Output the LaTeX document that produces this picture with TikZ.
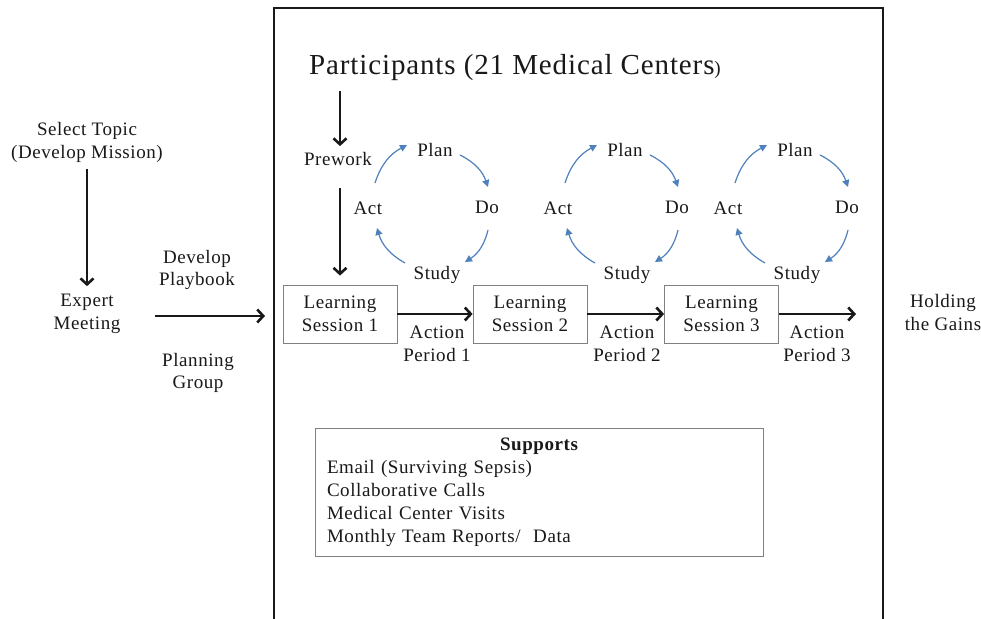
\documentclass[tikz,border=0pt]{standalone}
\usepackage{fontspec}
\setmainfont[LetterSpace=3]{Liberation Serif}
\usetikzlibrary{arrows.meta}
\definecolor{pdsablue}{RGB}{79,129,189}
\definecolor{ink}{RGB}{25,25,25}
\begin{document}
\begin{tikzpicture}[x=1pt,y=1pt,
  txt/.style={font=\fontsize{19}{22.7}\selectfont, text=ink, align=center, inner sep=2pt},
  flow/.style={draw=ink, line width=2.6pt, -{Straight Barb[length=6pt,width=13pt]}},
  sessbox/.style={txt, draw=gray, line width=0.8pt, minimum width=114pt, minimum height=58pt},
  cyc/.style={draw=pdsablue, line width=1.2pt, -{Triangle[length=7pt,width=7pt]}},
  pdsa/.pic={
    \node[txt] (-plan) at (5,58) {Plan};
    \node[txt] (-do) at (57,1) {Do};
    \node[txt] (-study) at (7,-67) {Study};
    \node[txt] (-act) at (-62,0) {Act};
    \draw[cyc] (-55,25) to[bend left=22] (-23,63);
    \draw[cyc] (30,53) to[bend left=22] (58,21);
    \draw[cyc] (58,-22) to[bend left=22] (35,-54);
    \draw[cyc] (-25,-55) to[bend left=22] (-53,-20);
  }]
\fill[white] (0,0) rectangle (981,618);
\useasboundingbox (0,0) rectangle (981,618);

% frame
\draw[line width=2.6pt, draw=ink] (274,-2) -- (274,610) -- (883,610) -- (883,-2);

% left part
\node[txt] (select) at (87,475.5) {Select Topic\\(Develop Mission)};
\node[txt] (expert) at (87,304) {Expert\\Meeting};
\draw[flow, shorten <=4pt, shorten >=6pt] (select) -- (expert);
\node[txt] (playbook) at (197,348) {Develop\\Playbook};
\node[txt] (planning) at (198,245) {Planning\\Group};
\coordinate (entry) at (265,302);
\draw[flow, shorten <=32pt] (expert.east |- entry) -- (entry);

% title
\node[txt, font=\fontsize{29}{34}\selectfont] (title) at (515,550)
  {Participants (21 Medical Centers{\fontsize{19}{19}\selectfont)}};

% prework
\node[txt] (prework) at (338,459) {Prework};
\draw[flow, shorten <=8pt, shorten >=4pt] (title.south -| 340,0) -- (prework.north -| 340,0);

% sessions
\node[sessbox] (ls1) at (340,304) {Learning\\Session 1};
\node[sessbox] (ls2) at (530,304) {Learning\\Session 2};
\node[sessbox] (ls3) at (721.5,304) {Learning\\Session 3};
\draw[flow, shorten <=20pt, shorten >=9pt] (prework.south -| 340,0) -- (ls1.north -| 340,0);
\draw[flow] (ls1) -- (ls2);
\draw[flow] (ls2) -- (ls3);
\coordinate (hold) at (856,304);
\draw[flow] (ls3) -- (hold);

\node[txt] (ap1) at (437,274) {Action\\Period 1};
\node[txt] (ap2) at (627,274) {Action\\Period 2};
\node[txt] (ap3) at (817,274) {Action\\Period 3};
\node[txt] (gains) at (943,305.5) {Holding\\the Gains};

% PDSA cycles
\pic (c1) at (430,410) {pdsa};
\pic (c2) at (620,410) {pdsa};
\pic (c3) at (790,410) {pdsa};

% supports
\node[draw=gray, line width=0.8pt, minimum width=448pt, minimum height=128pt,
      font=\fontsize{19}{22.9}\selectfont, text=ink, align=left, text width=424pt,
      inner xsep=12pt] (supports) at (539,126)
  {\makebox[\linewidth]{\bfseries Supports}\\
   Email (Surviving Sepsis)\\
   Collaborative Calls\\
   Medical Center Visits\\
   Monthly Team Reports/~~Data};
\end{tikzpicture}
\end{document}
